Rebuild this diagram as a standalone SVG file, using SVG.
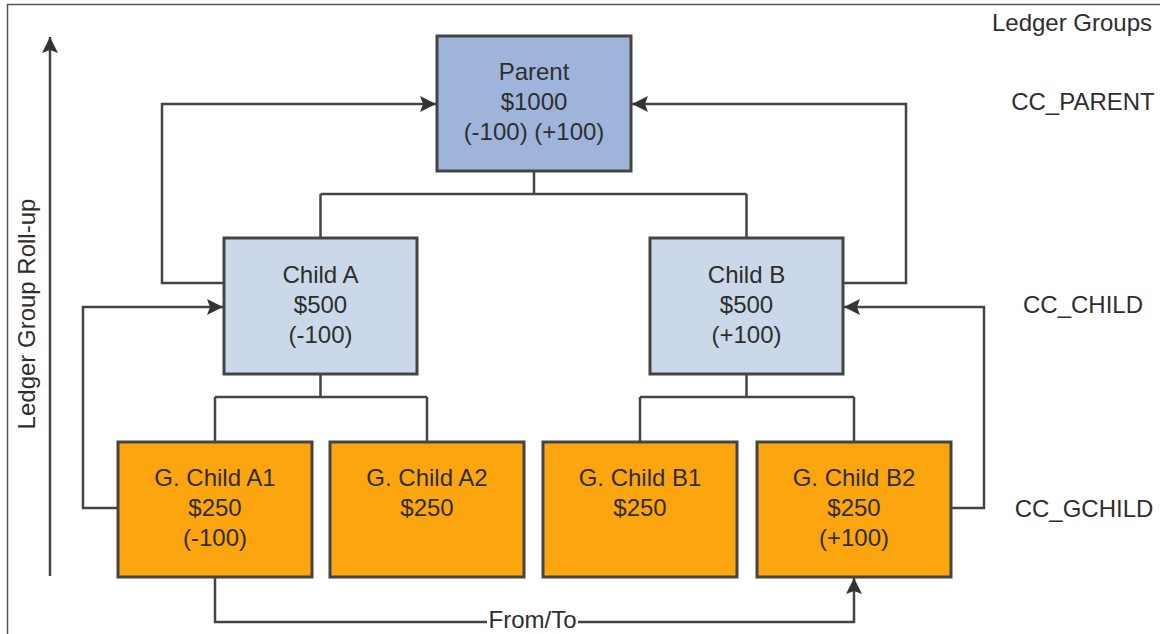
<svg xmlns="http://www.w3.org/2000/svg" width="1160" height="634" viewBox="0 0 1160 634">
<style>
.t{font-family:"Liberation Sans",Arial,sans-serif;font-size:24px;fill:#2e2e2e;text-anchor:middle}
.box{stroke:#444;stroke-width:3}
.p{fill:#9fb4db}
.c{fill:#cbd8ea}
.g{fill:#fda50f}
.ln{fill:none;stroke:#444;stroke-width:2.5}
</style>
<defs>
<marker id="ah" markerUnits="userSpaceOnUse" markerWidth="18" markerHeight="18" refX="16" refY="9" orient="auto">
<path d="M0,1 L16,9 L0,17 L3,9 z" fill="#333"/>
</marker>
</defs>
<rect width="1160" height="634" fill="#fff"/>
<path d="M7.5,634 V4.5 H1160" fill="none" stroke="#555" stroke-width="1.5"/>

<g id="connectors">
<path class="ln" d="M50,576 V37" marker-end="url(#ah)"/>
<path class="ln" d="M534,171 V194 M320.5,194 H746.5 M320.5,194 V238 M746.5,194 V238"/>
<path class="ln" d="M320.5,374 V397 M215,397 H427 M215,397 V442 M427,397 V442"/>
<path class="ln" d="M746.5,374 V397 M640,397 H854 M640,397 V442 M854,397 V442"/>
<path class="ln" d="M224,283 H162 V104 H436" marker-end="url(#ah)"/>
<path class="ln" d="M843,283 H906 V104 H632" marker-end="url(#ah)"/>
<path class="ln" d="M118,508 H83 V307 H223" marker-end="url(#ah)"/>
<path class="ln" d="M951,508 H984 V307 H844" marker-end="url(#ah)"/>
<path class="ln" d="M215,577 V622 H854 V578" marker-end="url(#ah)"/>
<rect x="487" y="610" width="91" height="24" fill="#fff"/>
<text class="t" x="532.5" y="628">From/To</text>
</g>

<g id="parent">
<rect class="box p" x="437" y="36" width="194" height="135"/>
<text class="t" x="534" y="80">Parent</text>
<text class="t" x="534" y="110">$1000</text>
<text class="t" x="534" y="140">(-100) (+100)</text>
</g>

<g id="childA">
<rect class="box c" x="224" y="238" width="193" height="136"/>
<text class="t" x="320.5" y="283">Child A</text>
<text class="t" x="320.5" y="313">$500</text>
<text class="t" x="320.5" y="343">(-100)</text>
</g>

<g id="childB">
<rect class="box c" x="650" y="238" width="193" height="136"/>
<text class="t" x="746.5" y="283">Child B</text>
<text class="t" x="746.5" y="313">$500</text>
<text class="t" x="746.5" y="343">(+100)</text>
</g>

<g id="gchildA1">
<rect class="box g" x="118" y="442" width="194" height="135"/>
<text class="t" x="215" y="486">G. Child A1</text>
<text class="t" x="215" y="516">$250</text>
<text class="t" x="215" y="546">(-100)</text>
</g>

<g id="gchildA2">
<rect class="box g" x="330" y="442" width="194" height="135"/>
<text class="t" x="427" y="486">G. Child A2</text>
<text class="t" x="427" y="516">$250</text>
</g>

<g id="gchildB1">
<rect class="box g" x="543" y="442" width="194" height="135"/>
<text class="t" x="640" y="486">G. Child B1</text>
<text class="t" x="640" y="516">$250</text>
</g>

<g id="gchildB2">
<rect class="box g" x="757" y="442" width="194" height="135"/>
<text class="t" x="854" y="486">G. Child B2</text>
<text class="t" x="854" y="516">$250</text>
<text class="t" x="854" y="546">(+100)</text>
</g>

<g id="labels">
<text class="t" x="1072" y="31">Ledger Groups</text>
<text class="t" x="1083" y="110">CC_PARENT</text>
<text class="t" x="1083" y="313">CC_CHILD</text>
<text class="t" x="1084" y="517">CC_GCHILD</text>
<text class="t" transform="translate(35,314) rotate(-90)">Ledger Group Roll-up</text>
</g>
</svg>
